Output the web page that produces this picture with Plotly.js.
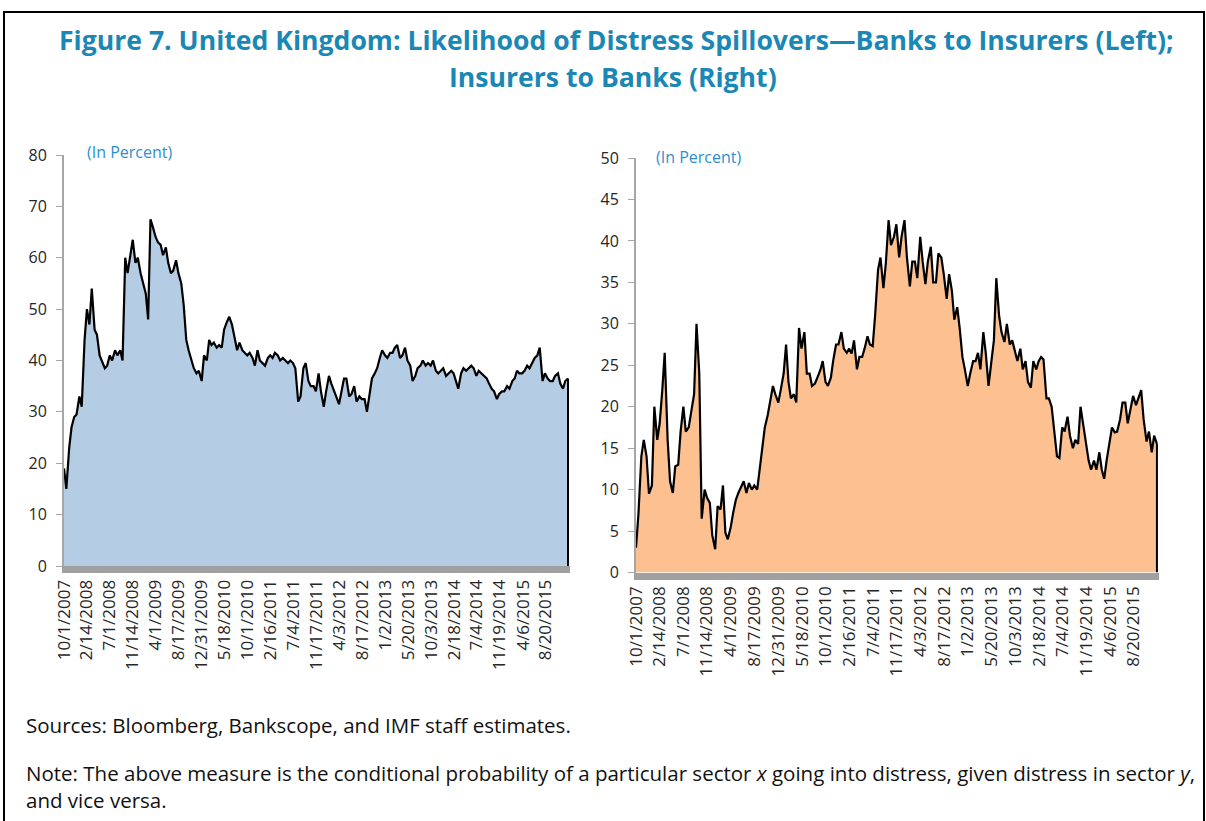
<!DOCTYPE html>
<html>
<head>
<meta charset="utf-8">
<script src="https://cdn.plot.ly/plotly-3.0.1.min.js"></script>
<style>
html,body{margin:0;padding:0;background:#fff;}
#chart{width:1206px;height:821px;}
</style>
</head>
<body>
<div id="chart"></div>
<script>
// Semi-monthly observation dates
const dates = [
"2007-10-01","2007-10-15","2007-11-01","2007-11-15","2007-12-01","2007-12-15",
"2008-01-01","2008-01-15","2008-02-01","2008-02-15","2008-03-01","2008-03-15","2008-04-01","2008-04-15","2008-05-01","2008-05-15","2008-06-01","2008-06-15",
"2008-07-01","2008-07-15","2008-08-01","2008-08-15","2008-09-01","2008-09-15","2008-10-01","2008-10-15","2008-11-01","2008-11-15","2008-12-01","2008-12-15",
"2009-01-01","2009-01-15","2009-02-01","2009-02-15","2009-03-01","2009-03-15","2009-04-01","2009-04-15","2009-05-01","2009-05-15","2009-06-01","2009-06-15",
"2009-07-01","2009-07-15","2009-08-01","2009-08-15","2009-09-01","2009-09-15","2009-10-01","2009-10-15","2009-11-01","2009-11-15","2009-12-01","2009-12-15",
"2010-01-01","2010-01-15","2010-02-01","2010-02-15","2010-03-01","2010-03-15","2010-04-01","2010-04-15","2010-05-01","2010-05-15","2010-06-01","2010-06-15",
"2010-07-01","2010-07-15","2010-08-01","2010-08-15","2010-09-01","2010-09-15","2010-10-01","2010-10-15","2010-11-01","2010-11-15","2010-12-01","2010-12-15",
"2011-01-01","2011-01-15","2011-02-01","2011-02-15","2011-03-01","2011-03-15","2011-04-01","2011-04-15","2011-05-01","2011-05-15","2011-06-01","2011-06-15",
"2011-07-01","2011-07-15","2011-08-01","2011-08-15","2011-09-01","2011-09-15","2011-10-01","2011-10-15","2011-11-01","2011-11-15","2011-12-01","2011-12-15",
"2012-01-01","2012-01-15","2012-02-01","2012-02-15","2012-03-01","2012-03-15","2012-04-01","2012-04-15","2012-05-01","2012-05-15","2012-06-01","2012-06-15",
"2012-07-01","2012-07-15","2012-08-01","2012-08-15","2012-09-01","2012-09-15","2012-10-01","2012-10-15","2012-11-01","2012-11-15","2012-12-01","2012-12-15",
"2013-01-01","2013-01-15","2013-02-01","2013-02-15","2013-03-01","2013-03-15","2013-04-01","2013-04-15","2013-05-01","2013-05-15","2013-06-01","2013-06-15",
"2013-07-01","2013-07-15","2013-08-01","2013-08-15","2013-09-01","2013-09-15","2013-10-01","2013-10-15","2013-11-01","2013-11-15","2013-12-01","2013-12-15",
"2014-01-01","2014-01-15","2014-02-01","2014-02-15","2014-03-01","2014-03-15","2014-04-01","2014-04-15","2014-05-01","2014-05-15","2014-06-01","2014-06-15",
"2014-07-01","2014-07-15","2014-08-01","2014-08-15","2014-09-01","2014-09-15","2014-10-01","2014-10-15","2014-11-01","2014-11-15","2014-12-01","2014-12-15",
"2015-01-01","2015-01-15","2015-02-01","2015-02-15","2015-03-01","2015-03-15","2015-04-01","2015-04-15","2015-05-01","2015-05-15","2015-06-01","2015-06-15",
"2015-07-01","2015-07-15","2015-08-01","2015-08-15","2015-09-01","2015-09-15","2015-10-01","2015-10-15","2015-11-01","2015-11-15","2015-12-01","2015-12-15",
"2015-12-31"
];

// Banks to insurers (left panel), percent
const banksToInsurers = [
19,15,23,27,29,29.5,
33,31,44,50,47,54,46,45,41,40,38.5,39,41,40,42,41,42,40,60,57,61,63.5,59,60,
57,55,53,48,67.5,66,64,63,62.5,60.5,62,59,57,57.5,59.5,57,55,51,44,42,40,38.5,37.5,38,
36,41,40,44,43,43.5,42.5,43,42.5,46,47.5,48.5,47,45,42,43.5,42,41.5,41,41.5,40.5,39,42,40,
39.5,39,40.5,41,40.5,41.5,41,40,40.5,40,39.5,40,39.5,38.5,32,33,38.5,39.5,36,35,35,34,37.5,34,
31,34,37,35.5,34,33,31.5,34,36.5,36.5,33,33.5,35,32,33,32.5,32.5,30,33.5,36.5,37.5,38.5,40.5,42,
41,40.5,41.5,41.5,42.5,43,40.5,41,42.5,40,39,36,37,38.5,39,40,39,39.5,39,40,38,37.5,38,38.5,
37,37.5,38,37.5,36,34.5,37.5,38.5,38,38.5,39,38.5,37,38,37.5,37,36.5,35.5,34.5,34,32.5,33.5,34,34,
35,34.5,36,36.5,38,37.5,37.5,38,39,38.5,39.5,40.5,41,42.5,36,37.5,36.5,36,36,37,37.5,35.5,34.5,36,
36.5
];

// Insurers to banks (right panel), percent
const insurersToBanks = [
3,7,14,16,14,9.5,
10.5,20,16,18,22,26.5,16,11,9.6,12.8,13,17,20,17,17.5,19.5,21.5,30,24,6.5,10,9,8.4,4.5,
2.8,8,7.6,10.5,4.8,4,5.5,7.2,8.8,9.6,10.5,11,9.6,10.8,10,10.5,10,12.5,15,17.5,19,20.5,22.5,21.5,
20.5,22,24,27.5,23,21,21.5,20.5,29.5,27,29,24,24,22.5,22.8,23.5,24.4,25.5,23,22.5,23.5,25.6,27.5,27.5,
29,27,26.5,27,26.4,28,24.5,26,26,27,28.5,27.5,27.3,31,36.5,38,34.3,37.3,42.5,39.5,40.5,42,38,40.5,
42.5,38,34.5,37.5,37.5,35.5,40.5,37.5,34.8,37.5,39.3,35,35,38.5,38,36,33,36,34,30.5,32,29.5,26,24.5,
22.5,24,25.5,25.5,26.5,24.5,29,26.5,22.5,25,28,35.5,31,29,27.8,30,27.5,28,26.5,25.5,27,24.5,25.5,23,
22.3,25.5,24.5,25.5,26,25.7,21,21,20,17.5,14,13.8,17.5,17,18.8,16.5,15,16,15.5,20,17.5,15.5,13.5,12.4,
13.5,12.4,14.5,12.4,11.3,13.5,15.6,17.5,16.9,17,18.5,20.5,20.5,18,19.8,21.3,20.2,21,22,18.5,15.8,17,14.5,16.5,
15.5
];

// Category-axis tick labels (every 98 business days)
const tickDates = ["2007-10-01","2008-02-14","2008-07-01","2008-11-14","2009-04-01","2009-08-17","2009-12-31","2010-05-18","2010-10-01","2011-02-16","2011-07-04","2011-11-17","2012-04-03","2012-08-17","2013-01-02","2013-05-20","2013-10-03","2014-02-18","2014-07-04","2014-11-19","2015-04-06","2015-08-20"];
const tickLabels = ["10/1/2007","2/14/2008","7/1/2008","11/14/2008","4/1/2009","8/17/2009","12/31/2009","5/18/2010","10/1/2010","2/16/2011","7/4/2011","11/17/2011","4/3/2012","8/17/2012","1/2/2013","5/20/2013","10/3/2013","2/18/2014","7/4/2014","11/19/2014","4/6/2015","8/20/2015"];

const W = 1206, H = 821;
const px = v => v / W;
const py = v => 1 - v / H;
const FONT = "Open Sans, Noto Sans, DejaVu Sans, sans-serif";
const TEXT = "#262626";

const traces = [
  {x: dates, y: banksToInsurers, type: "scatter", mode: "lines", fill: "tozeroy",
   fillcolor: "#b4cde5", line: {color: "#000", width: 2.2}, xaxis: "x", yaxis: "y", hoverinfo: "skip"},
  {x: dates, y: insurersToBanks, type: "scatter", mode: "lines", fill: "tozeroy",
   fillcolor: "#fdc090", line: {color: "#000", width: 2.2}, xaxis: "x2", yaxis: "y2", hoverinfo: "skip"}
];

const xCommon = {
  type: "date", range: ["2007-10-01", "2016-01-12"], tickmode: "array",
  tickvals: tickDates, ticktext: tickLabels, tickangle: -90, ticks: "",
  showgrid: false, zeroline: false, showline: true, linecolor: "#a0a0a0", linewidth: 7,
  tickfont: {family: FONT, size: 17, color: TEXT}, fixedrange: true
};
const yCommon = {
  showgrid: false, zeroline: false, showline: true, linecolor: "#a6a6a6", linewidth: 2,
  ticks: "outside", ticklen: 6, tickcolor: "#a6a6a6", tickwidth: 1, ticklabelstandoff: 6,
  tickfont: {family: FONT, size: 16, color: TEXT}, fixedrange: true
};

const lastI = dates.length - 1;

const layout = {
  width: W, height: H, margin: {l: 0, r: 0, t: 0, b: 0},
  paper_bgcolor: "#fff", plot_bgcolor: "rgba(0,0,0,0)", showlegend: false,
  xaxis: Object.assign({}, xCommon, {domain: [px(64), px(570)], anchor: "y"}),
  yaxis: Object.assign({}, yCommon, {domain: [py(566), py(155)], range: [0, 80], dtick: 10, anchor: "x"}),
  xaxis2: Object.assign({}, xCommon, {domain: [px(636), px(1159)], anchor: "y2"}),
  yaxis2: Object.assign({}, yCommon, {domain: [py(572.5), py(158)], range: [0, 50], dtick: 5, anchor: "x2"}),
  shapes: [
    {type: "rect", xref: "paper", yref: "paper", x0: px(4), x1: px(1204), y0: -0.1, y1: py(12),
     line: {color: "#000", width: 2}, fillcolor: "rgba(0,0,0,0)"},
    {type: "line", xref: "x", yref: "y", x0: dates[lastI], x1: dates[lastI], y0: 0, y1: banksToInsurers[lastI],
     line: {color: "#000", width: 2}},
    {type: "line", xref: "x2", yref: "y2", x0: dates[lastI], x1: dates[lastI], y0: 0, y1: insurersToBanks[lastI],
     line: {color: "#000", width: 2}}
  ],
  annotations: [
    {xref: "paper", yref: "paper", x: px(616), y: py(40), xanchor: "center", yanchor: "middle", showarrow: false,
     text: "<b>Figure 7. United Kingdom: Likelihood of Distress Spillovers\u2014Banks to Insurers (Left);</b>",
     font: {family: FONT, size: 26.6, color: "#1a87b5"}},
    {xref: "paper", yref: "paper", x: px(613), y: py(77), xanchor: "center", yanchor: "middle", showarrow: false,
     text: "<b>Insurers to Banks (Right)</b>",
     font: {family: FONT, size: 26.6, color: "#1a87b5"}},
    {xref: "paper", yref: "paper", x: px(85), y: py(152), xanchor: "left", yanchor: "middle", showarrow: false,
     text: "(In Percent)", font: {family: FONT, size: 16, color: "#2f8fcf"}},
    {xref: "paper", yref: "paper", x: px(654), y: py(157), xanchor: "left", yanchor: "middle", showarrow: false,
     text: "(In Percent)", font: {family: FONT, size: 16, color: "#2f8fcf"}},
    {xref: "paper", yref: "paper", x: px(24), y: py(725), xanchor: "left", yanchor: "middle", showarrow: false,
     text: "Sources: Bloomberg, Bankscope, and IMF staff estimates.", font: {family: FONT, size: 20.5, color: "#111"}},
    {xref: "paper", yref: "paper", x: px(24), y: py(773), xanchor: "left", yanchor: "middle", showarrow: false,
     text: "Note: The above measure is the conditional probability of a particular sector <i>x</i> going into distress, given distress in sector <i>y</i>,",
     font: {family: FONT, size: 20.5, color: "#111"}},
    {xref: "paper", yref: "paper", x: px(24), y: py(800), xanchor: "left", yanchor: "middle", showarrow: false,
     text: "and vice versa.", font: {family: FONT, size: 20.5, color: "#111"}}
  ]
};

Plotly.newPlot("chart", traces, layout, {displayModeBar: false, staticPlot: true});
</script>
</body>
</html>
